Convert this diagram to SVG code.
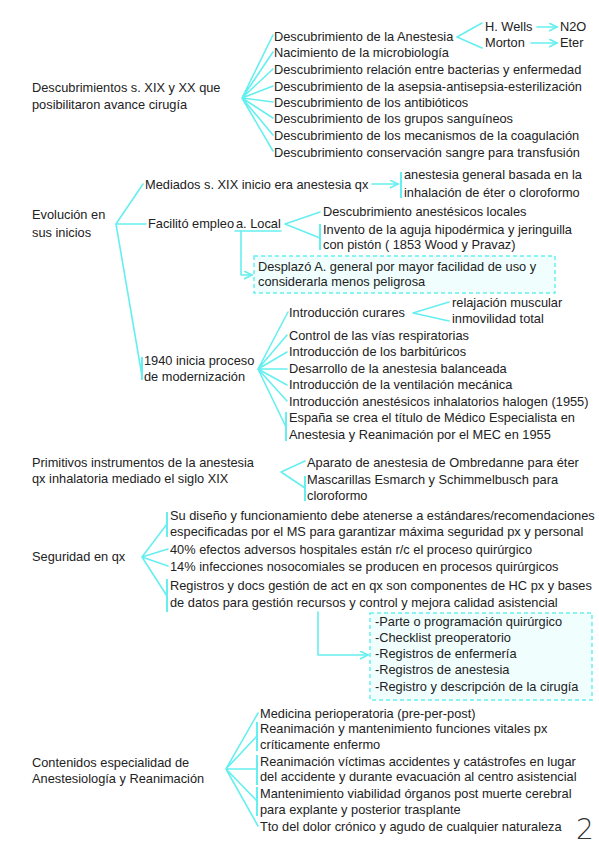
<svg xmlns="http://www.w3.org/2000/svg" width="599" height="848" viewBox="0 0 599 848">
<defs>
<style>
.t{font-family:"Liberation Sans",Arial,sans-serif;font-size:12.8px;fill:#222}
.c{stroke:#66eff0;stroke-width:1.6;fill:none;stroke-linecap:round;stroke-linejoin:round}
.bar{stroke:#66eff0;stroke-width:2;fill:none}
.box{fill:#f0fefe;stroke:#66eff0;stroke-width:1.5;stroke-dasharray:4 3}
.pg{font-family:"DejaVu Sans",sans-serif;font-weight:200;font-size:28px;fill:#333}
</style>
<marker id="ah" markerWidth="10" markerHeight="10" refX="8" refY="4" orient="auto" markerUnits="userSpaceOnUse">
<path d="M0,0 L8,4 L0,8" fill="none" stroke="#66eff0" stroke-width="1.6"/>
</marker>
</defs>
<rect width="599" height="848" fill="#fff"/>

<g id="connectors">
<!-- section 1 -->
<path class="c" d="M242,98 L273,35 M242,98 L273,52 M242,98 L273,69 M242,98 L273,86 M242,98 L273,102 M242,98 L273,118 M242,98 L273,135 M242,98 L273,151"/>
<path class="c" d="M457,37 L482,23 M457,37 L482,48"/>
<path class="c" d="M537,27 H557" marker-end="url(#ah)"/>
<path class="c" d="M531,43 H557" marker-end="url(#ah)"/>
<!-- section 2 -->
<path class="c" d="M116,224 L143,184 M116,224 H146 M116,224 L142,376"/>
<path class="bar" d="M142,357 V380"/>
<path class="c" d="M372,184 H398" marker-end="url(#ah)"/>
<path class="bar" d="M401,172 V198"/>
<path class="c" d="M235,231 H281"/>
<path class="c" d="M241,231 V275 H252" marker-end="url(#ah)"/>
<path class="c" d="M285,224 L320,212 M285,224 L320,238"/>
<path class="bar" d="M320,224 V250"/>
<path class="c" d="M258,369 L288,312 M258,369 L287,335 M258,369 L287,352 M258,369 L287,369 M258,369 L287,385 M258,369 L287,401 M258,369 L286,427"/>
<path class="bar" d="M286,412 V441"/>
<path class="c" d="M413,313 L449,302 M413,313 L449,321"/>
<!-- section 3 -->
<path class="c" d="M281,472 L305,461 M281,472 L305,488"/>
<path class="bar" d="M305,476 V501"/>
<!-- section 4 -->
<path class="c" d="M142,557 L167,524 M142,557 L168,549 M142,557 L168,566 M142,557 L167,596"/>
<path class="bar" d="M167,512 V537 M167,579 V612"/>
<path class="c" d="M318,612 V655 H368" marker-end="url(#ah)"/>
<!-- section 5 -->
<path class="c" d="M226,769 L258,713 M226,769 L257,736 M226,769 L257,769 M226,769 L257,801 M226,769 L258,826"/>
<path class="bar" d="M257,722 V751 M257,755 V785 M257,787 V816"/>
</g>

<g id="n-desc">
<text class="t" x="32" y="92">Descubrimientos s. XIX y XX que</text>
<text class="t" x="32" y="109">posibilitaron avance cirugía</text>
</g>
<g id="n-desc-items">
<text class="t" x="274" y="41">Descubrimiento de la Anestesia</text>
<text class="t" x="274" y="57">Nacimiento de la microbiología</text>
<text class="t" x="274" y="74">Descubrimiento relación entre bacterias y enfermedad</text>
<text class="t" x="274" y="91">Descubrimiento de la asepsia-antisepsia-esterilización</text>
<text class="t" x="274" y="107">Descubrimiento de los antibióticos</text>
<text class="t" x="274" y="123">Descubrimiento de los grupos sanguíneos</text>
<text class="t" x="274" y="140">Descubrimiento de los mecanismos de la coagulación</text>
<text class="t" x="274" y="157">Descubrimiento conservación sangre para transfusión</text>
</g>
<g id="n-wells"><text class="t" x="485" y="31">H. Wells</text></g>
<g id="n-morton"><text class="t" x="485" y="47">Morton</text></g>
<g id="n-n2o"><text class="t" x="560" y="31">N2O</text></g>
<g id="n-eter"><text class="t" x="560" y="47">Eter</text></g>

<g id="n-evol">
<text class="t" x="32" y="219">Evolución en</text>
<text class="t" x="32" y="237">sus inicios</text>
</g>
<g id="n-mediados"><text class="t" x="145" y="189">Mediados s. XIX inicio era anestesia qx</text></g>
<g id="n-general">
<text class="t" x="404" y="179">anestesia general basada en la</text>
<text class="t" x="404" y="197">inhalación de éter o cloroformo</text>
</g>
<g id="n-facilito">
<text class="t" x="148" y="228">Facilitó empleo</text>
<text class="t" x="236" y="228">a. Local</text>
</g>
<g id="n-locales">
<text class="t" x="323" y="216">Descubrimiento anestésicos locales</text>
<text class="t" x="323" y="234">Invento de la aguja hipodérmica y jeringuilla</text>
<text class="t" x="323" y="249">con pistón ( 1853 Wood y Pravaz)</text>
</g>
<g id="n-desplazo">
<rect class="box" x="254" y="256" width="301" height="37"/>
<text class="t" x="258" y="271">Desplazó A. general por mayor facilidad de uso y</text>
<text class="t" x="258" y="286">considerarla menos peligrosa</text>
</g>
<g id="n-1940">
<text class="t" x="144" y="365">1940 inicia proceso</text>
<text class="t" x="144" y="381">de modernización</text>
</g>
<g id="n-1940-items">
<text class="t" x="289" y="317">Introducción curares</text>
<text class="t" x="289" y="340">Control de las vías respiratorias</text>
<text class="t" x="289" y="356">Introducción de los barbitúricos</text>
<text class="t" x="289" y="373">Desarrollo de la anestesia balanceada</text>
<text class="t" x="289" y="389">Introducción de la ventilación mecánica</text>
<text class="t" x="289" y="406">Introducción anestésicos inhalatorios halogen (1955)</text>
<text class="t" x="289" y="422">España se crea el título de Médico Especialista en</text>
<text class="t" x="289" y="439">Anestesia y Reanimación por el MEC en 1955</text>
</g>
<g id="n-curares">
<text class="t" x="452" y="307">relajación muscular</text>
<text class="t" x="452" y="323">inmovilidad total</text>
</g>

<g id="n-primitivos">
<text class="t" x="32" y="467">Primitivos instrumentos de la anestesia</text>
<text class="t" x="32" y="483">qx inhalatoria mediado el siglo XIX</text>
</g>
<g id="n-aparatos">
<text class="t" x="307" y="467">Aparato de anestesia de Ombredanne para éter</text>
<text class="t" x="307" y="484">Mascarillas Esmarch y Schimmelbusch para</text>
<text class="t" x="307" y="500">cloroformo</text>
</g>

<g id="n-seguridad"><text class="t" x="32" y="561">Seguridad en qx</text></g>
<g id="n-seg-items">
<text class="t" x="170" y="520">Su diseño y funcionamiento debe atenerse a estándares/recomendaciones</text>
<text class="t" x="170" y="536">especificadas por el MS para garantizar máxima seguridad px y personal</text>
<text class="t" x="170" y="554">40% efectos adversos hospitales están r/c el proceso quirúrgico</text>
<text class="t" x="170" y="571">14% infecciones nosocomiales se producen en procesos quirúrgicos</text>
<text class="t" x="170" y="590">Registros y docs gestión de act en qx son componentes de HC px y bases</text>
<text class="t" x="170" y="607">de datos para gestión recursos y control y mejora calidad asistencial</text>
</g>
<g id="n-registros">
<rect class="box" x="370" y="613" width="222" height="87"/>
<text class="t" x="375" y="626">-Parte o programación quirúrgico</text>
<text class="t" x="375" y="642">-Checklist preoperatorio</text>
<text class="t" x="375" y="658">-Registros de enfermería</text>
<text class="t" x="375" y="674">-Registros de anestesia</text>
<text class="t" x="375" y="691">-Registro y descripción de la cirugía</text>
</g>

<g id="n-contenidos">
<text class="t" x="32" y="767">Contenidos especialidad de</text>
<text class="t" x="32" y="783">Anestesiología y Reanimación</text>
</g>
<g id="n-cont-items">
<text class="t" x="260" y="718">Medicina perioperatoria (pre-per-post)</text>
<text class="t" x="260" y="733">Reanimación y mantenimiento funciones vitales px</text>
<text class="t" x="260" y="749">críticamente enfermo</text>
<text class="t" x="260" y="766">Reanimación víctimas accidentes y catástrofes en lugar</text>
<text class="t" x="260" y="781">del accidente y durante evacuación al centro asistencial</text>
<text class="t" x="260" y="798">Mantenimiento viabilidad órganos post muerte cerebral</text>
<text class="t" x="260" y="814">para explante y posterior trasplante</text>
<text class="t" x="260" y="831">Tto del dolor crónico y agudo de cualquier naturaleza</text>
</g>
<text class="pg" x="576" y="839">2</text>
</svg>
